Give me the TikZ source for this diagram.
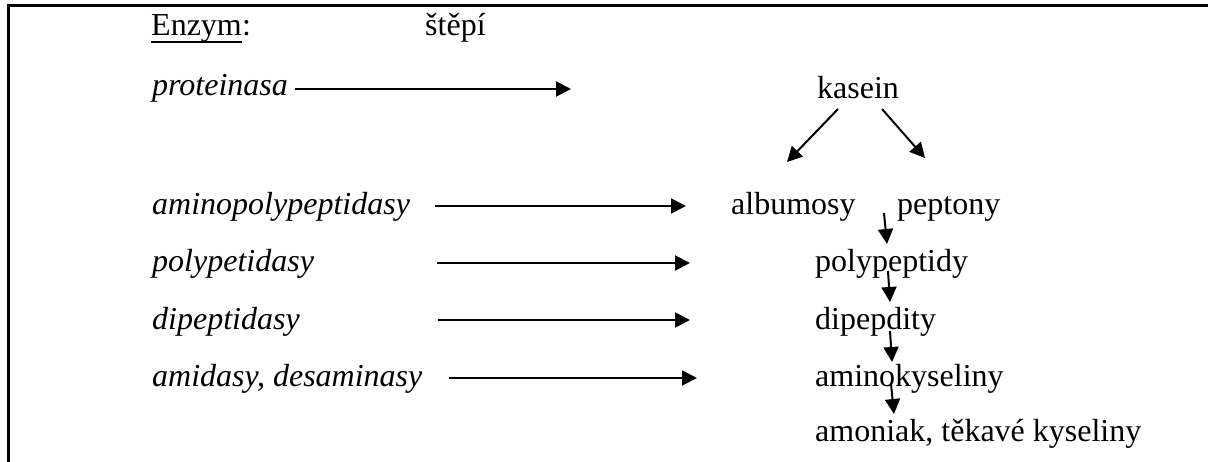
\documentclass[tikz,border=0pt]{standalone}
\usepackage{fontspec}
\setmainfont{Liberation Serif}
\usetikzlibrary{arrows.meta}
\begin{document}
\begin{tikzpicture}[x=1pt,y=-1pt,
  lbl/.style={anchor=base west,inner sep=0pt,font=\fontsize{32}{38}\selectfont},
  enz/.style={anchor=base west,inner sep=0pt,font=\fontsize{32}{38}\selectfont\itshape},
  arr/.style={line width=2pt,-{Triangle[length=15pt,width=15pt]}},
  frameline/.style={line width=3pt}]
\useasboundingbox (0,0) rectangle (1208,462);

% open frame: top and left edges
\coordinate (tl) at (8,6);
\coordinate (tr) at (1208,6);
\coordinate (bl) at (8,462);
\draw[frameline] (tr) -- (tl) -- (bl);

% header
\node[lbl] (enzym) at (151,36) {Enzym};
\node[lbl] (colon) at (enzym.base east) {:};
\draw[line width=1.5pt] ([yshift=-6pt]enzym.base west) -- ([yshift=-6pt]enzym.base east);
\node[lbl] (stepi) at (425,36) {štěpí};

% enzymes
\node[enz] (e1) at (152,96) {proteinasa};
\node[enz] (e2) at (152,215) {aminopolypeptidasy};
\node[enz] (e3) at (152,272) {polypetidasy};
\node[enz] (e4) at (152,330) {dipeptidasy};
\node[enz] (e5) at (152,387) {amidasy, desaminasy};

% products
\node[lbl] (kasein) at (817,99) {kasein};
\node[lbl] (albumosy) at (731,215) {albumosy};
\node[lbl] (peptony) at (897,215) {peptony};
\node[lbl] (polypep) at (815,272) {polypeptidy};
\node[lbl] (dipep) at (815,330) {dipepdity};
\node[lbl] (amino) at (815,387) {aminokyseliny};
\node[lbl] (amoniak) at (815,441) {amoniak, těkavé kyseliny};

% enzyme arrows
\coordinate (a1s) at (295,89);  \coordinate (a1e) at (571,89);
\coordinate (a2s) at (435,206); \coordinate (a2e) at (686,206);
\coordinate (a3s) at (437,263); \coordinate (a3e) at (690,263);
\coordinate (a4s) at (438,320); \coordinate (a4e) at (690,320);
\coordinate (a5s) at (449,378); \coordinate (a5e) at (697,378);
\draw[arr] (a1s) -- (a1e);
\draw[arr] (a2s) -- (a2e);
\draw[arr] (a3s) -- (a3e);
\draw[arr] (a4s) -- (a4e);
\draw[arr] (a5s) -- (a5e);

% kasein split
\coordinate (k1s) at (838,109); \coordinate (k1e) at (787,162);
\coordinate (k2s) at (882,109); \coordinate (k2e) at (925,158);
\draw[arr] (k1s) -- (k1e);
\draw[arr] (k2s) -- (k2e);

% degradation chain
\coordinate (d1s) at (884,213); \coordinate (d1e) at (887,244);
\coordinate (d2s) at (888,271); \coordinate (d2e) at (890,302);
\coordinate (d3s) at (890,331); \coordinate (d3e) at (892,362);
\coordinate (d4s) at (891,384); \coordinate (d4e) at (894,414);
\draw[arr] (d1s) -- (d1e);
\draw[arr] (d2s) -- (d2e);
\draw[arr] (d3s) -- (d3e);
\draw[arr] (d4s) -- (d4e);
\end{tikzpicture}
\end{document}
